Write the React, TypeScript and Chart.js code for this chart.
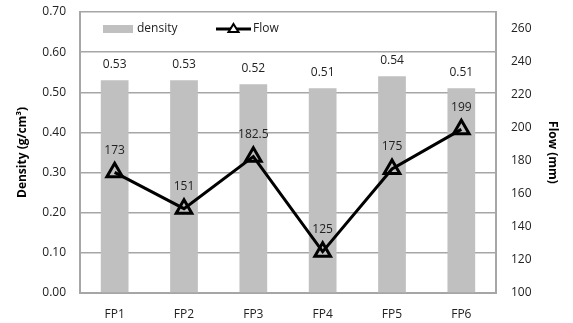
import React, { useEffect, useRef } from "react";
import { Chart, registerables } from "chart.js";

Chart.register(...registerables);

const categories = ["FP1", "FP2", "FP3", "FP4", "FP5", "FP6"];
const densityValues = [0.53, 0.53, 0.52, 0.51, 0.54, 0.51];
const flowValues = [173, 151, 182.5, 125, 175, 199];
const densityLabels = ["0.53", "0.53", "0.52", "0.51", "0.54", "0.51"];
const flowLabels = ["173", "151", "182.5", "125", "175", "199"];

const FONT = "'Open Sans', 'Liberation Sans', sans-serif";
const TXT = "#222";
const GRID = "#a6a6a6";

const labelPlugin = {
  id: "valueLabels",
  afterDatasetsDraw(chart: any) {
    const ctx = chart.ctx;
    ctx.save();
    ctx.font = `12px ${FONT}`;
    ctx.fillStyle = TXT;
    ctx.textAlign = "center";
    ctx.textBaseline = "middle";
    const barMeta = chart.getDatasetMeta(0);
    barMeta.data.forEach((el: any, i: number) => {
      ctx.fillText(densityLabels[i], el.x, el.y - 16);
    });
    const lineMeta = chart.getDatasetMeta(1);
    lineMeta.data.forEach((el: any, i: number) => {
      ctx.fillText(flowLabels[i], el.x, el.y - 22);
    });
    ctx.restore();
  },
};

const legendPlugin = {
  id: "insideLegend",
  afterDraw(chart: any) {
    const ctx = chart.ctx;
    const a = chart.chartArea;
    const y = a.top + 17;
    const x0 = a.left + 23;
    ctx.save();
    ctx.fillStyle = "#c0c0c0";
    ctx.fillRect(x0, y - 4, 30, 8);
    ctx.font = `12px ${FONT}`;
    ctx.fillStyle = TXT;
    ctx.textBaseline = "middle";
    ctx.textAlign = "left";
    ctx.fillText("density", x0 + 34, y);
    const lx = x0 + 113;
    ctx.strokeStyle = "#000";
    ctx.lineWidth = 3;
    ctx.beginPath();
    ctx.moveTo(lx, y);
    ctx.lineTo(lx + 35, y);
    ctx.stroke();
    const cx = lx + 17.5;
    ctx.lineWidth = 2;
    ctx.beginPath();
    ctx.moveTo(cx, y - 5);
    ctx.lineTo(cx + 5, y + 3);
    ctx.lineTo(cx - 5, y + 3);
    ctx.closePath();
    ctx.fillStyle = "#fff";
    ctx.fill();
    ctx.stroke();
    ctx.fillStyle = TXT;
    ctx.fillText("Flow", lx + 37, y);
    ctx.restore();
  },
};

export default function App() {
  const ref = useRef<HTMLCanvasElement>(null);
  useEffect(() => {
    document.body.style.margin = "0";
    const chart = new Chart(ref.current!, {
      type: "bar",
      data: {
        labels: categories,
        datasets: [
          {
            type: "bar",
            label: "density",
            data: densityValues,
            backgroundColor: "#c0c0c0",
            yAxisID: "y",
            barPercentage: 0.4,
            categoryPercentage: 1,
            order: 2,
          },
          {
            type: "line",
            label: "Flow",
            data: flowValues,
            borderColor: "#000",
            borderWidth: 3,
            pointStyle: "triangle",
            pointRadius: 9,
            pointBorderWidth: 3,
            pointBackgroundColor: "rgba(0,0,0,0)",
            pointBorderColor: "#000",
            yAxisID: "y1",
            order: 1,
          } as any,
        ],
      },
      options: {
        animation: false,
        responsive: false,
        layout: { padding: { top: 12, bottom: 0, left: 0, right: 0 } },
        plugins: {
          legend: { display: false },
          tooltip: { enabled: false },
        },
        scales: {
          x: {
            grid: { display: false, drawTicks: false },
            border: { color: GRID, width: 2 },
            ticks: { color: TXT, font: { family: FONT, size: 12 }, padding: 14 },
            afterFit(s: any) {
              s.height = 30;
              s.paddingLeft = 0;
              s.paddingRight = 0;
            },
          },
          y: {
            position: "left",
            min: 0,
            max: 0.7,
            ticks: {
              stepSize: 0.1,
              color: TXT,
              font: { family: FONT, size: 12 },
              padding: 14,
              callback: (v: any) => Number(v).toFixed(2),
            },
            grid: { color: GRID, lineWidth: 1.5, drawTicks: false },
            border: { color: GRID, width: 2 },
            title: {
              display: true,
              text: "Density (g/cm³)",
              color: "#000",
              font: { family: FONT, size: 12, weight: "bold" },
              padding: { top: 15, bottom: 0 },
            },
            afterFit(s: any) {
              s.width = 80;
              s.paddingTop = 0;
              s.paddingBottom = 0;
            },
          },
          y1: {
            position: "right",
            min: 100,
            max: 270,
            ticks: {
              stepSize: 20,
              color: TXT,
              font: { family: FONT, size: 12 },
              padding: 15,
            },
            afterBuildTicks(s: any) {
              s.ticks = [100, 120, 140, 160, 180, 200, 220, 240, 260].map((v) => ({ value: v }));
            },
            grid: { display: false, drawTicks: false },
            border: { color: GRID, width: 2 },
            title: {
              display: true,
              text: "Flow (mm)",
              color: "#000",
              font: { family: FONT, size: 12, weight: "bold" },
              padding: { top: 13, bottom: 0 },
            },
            afterFit(s: any) {
              s.width = 77;
              s.paddingTop = 0;
              s.paddingBottom = 0;
            },
          },
        },
      } as any,
      plugins: [labelPlugin, legendPlugin],
    });
    return () => chart.destroy();
  }, []);
  return (
    <div style={{ width: 573, height: 323, position: "relative" }}>
      <canvas ref={ref} width={573} height={323} />
    </div>
  );
}
